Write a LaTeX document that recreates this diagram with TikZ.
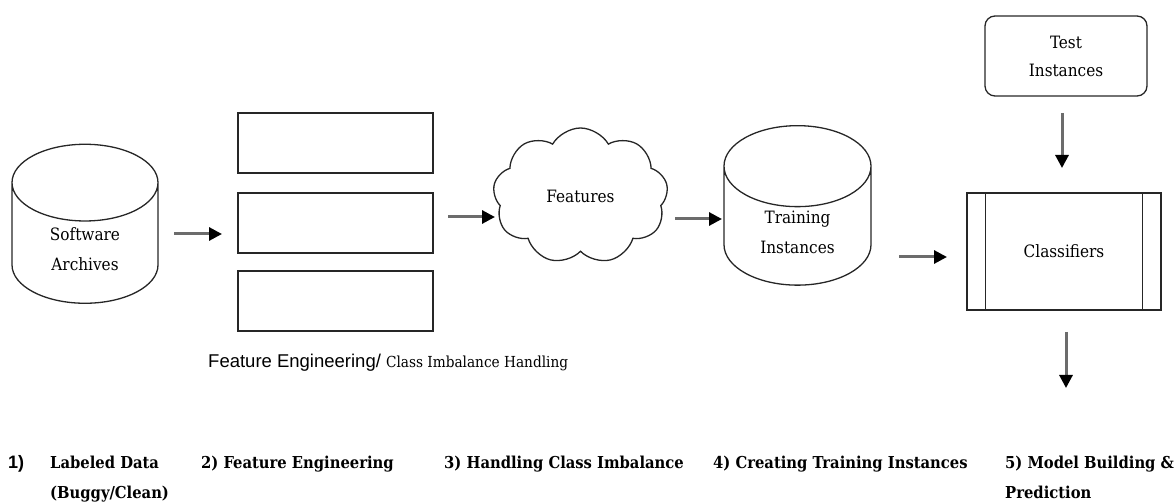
\documentclass[tikz,border=0pt]{standalone}
\usepackage{fontspec}
\setmainfont{DejaVu Serif Condensed}
\setsansfont{Liberation Sans}
\usetikzlibrary{shapes.geometric,shapes.symbols,arrows.meta}

\tikzset{
  store/.style={cylinder, draw=black!85, line width=1.3pt, shape border rotate=90,
    aspect=1.0, minimum width=146pt, minimum height=159pt, align=center,
    font=\fontsize{17}{30}\selectfont},
  panel/.style={rectangle, draw=black!85, line width=1.3pt, minimum width=195pt, minimum height=60pt},
  flow/.style={draw=gray!85!black, line width=3pt, -{Triangle[black,length=13pt,width=13pt]}},
  stagelbl/.style={anchor=base west, align=left, inner sep=0pt,
    font=\bfseries\fontsize{16.4}{29}\selectfont}
}

\begin{document}
\begin{tikzpicture}[x=1pt,y=-1pt]
  \useasboundingbox (0,0) rectangle (1176,502);

  % shapes
  \node[store] (sa) at (85,249) {Software\\Archives};
  \node[panel] (fe1) at (335.5,143) {};
  \node[panel] (fe2) at (335.5,223) {};
  \node[panel] (fe3) at (335.5,301) {};
  \node[cloud, draw=black!85, line width=1.3pt, cloud puffs=9, cloud puff arc=120,
    minimum width=175pt, minimum height=136pt, font=\fontsize{17}{30}\selectfont]
    (feat) at (580.5,196) {Features};
  \node[store, minimum width=147pt, minimum height=158pt] (ti) at (797.5,232) {Training\\Instances};
  \node[rectangle, rounded corners=10pt, draw=black!85, line width=1.3pt, minimum width=162pt,
    minimum height=80pt, align=center, font=\fontsize{17}{28}\selectfont]
    (test) at (1066,56) {Test\\Instances};
  \node[rectangle, draw=black!85, line width=1.3pt, minimum width=194pt, minimum height=117pt,
    font=\fontsize{17}{30}\selectfont] (clf) at (1064,251.5) {Classifiers};
  \draw[black!85, line width=1.3pt] ([xshift=19pt]clf.north west) -- ([xshift=19pt]clf.south west);
  \draw[black!85, line width=1.3pt] ([xshift=-19pt]clf.north east) -- ([xshift=-19pt]clf.south east);

  % arrow ends
  \coordinate (a1) at (174,234);  \coordinate (b1) at (222,234);
  \coordinate (a2) at (448,217);  \coordinate (b2) at (495,217);
  \coordinate (a3) at (675,219);  \coordinate (b3) at (722,219);
  \coordinate (a4) at (899,257);  \coordinate (b4) at (947,257);
  \coordinate (a5) at (1062,113); \coordinate (b5) at (1062,168);
  \coordinate (a6) at (1066,332); \coordinate (b6) at (1066,388);
  \foreach \i in {1,...,6}
    \draw[flow] (a\i) -- (b\i);

  % captions
  \node[anchor=west, inner sep=0pt] (fecap) at (208,363)
    {\sffamily\fontsize{18.5}{22}\selectfont Feature Engineering/ \rmfamily\fontsize{15.2}{22}\selectfont Class Imbalance Handling};
  \node[anchor=base west, inner sep=0pt, font=\sffamily\bfseries\fontsize{18}{22}\selectfont] (s1n) at (8,469) {1)};
  \node[stagelbl] (s1) at (50,498) {Labeled Data\\(Buggy/Clean)};
  \node[stagelbl] (s2) at (201,469) {2) Feature Engineering};
  \node[stagelbl] (s3) at (444,469) {3) Handling Class Imbalance};
  \node[stagelbl] (s4) at (713,469) {4) Creating Training Instances};
  \node[stagelbl] (s5) at (1005,498) {5) Model Building \&\\Prediction};
\end{tikzpicture}
\end{document}
